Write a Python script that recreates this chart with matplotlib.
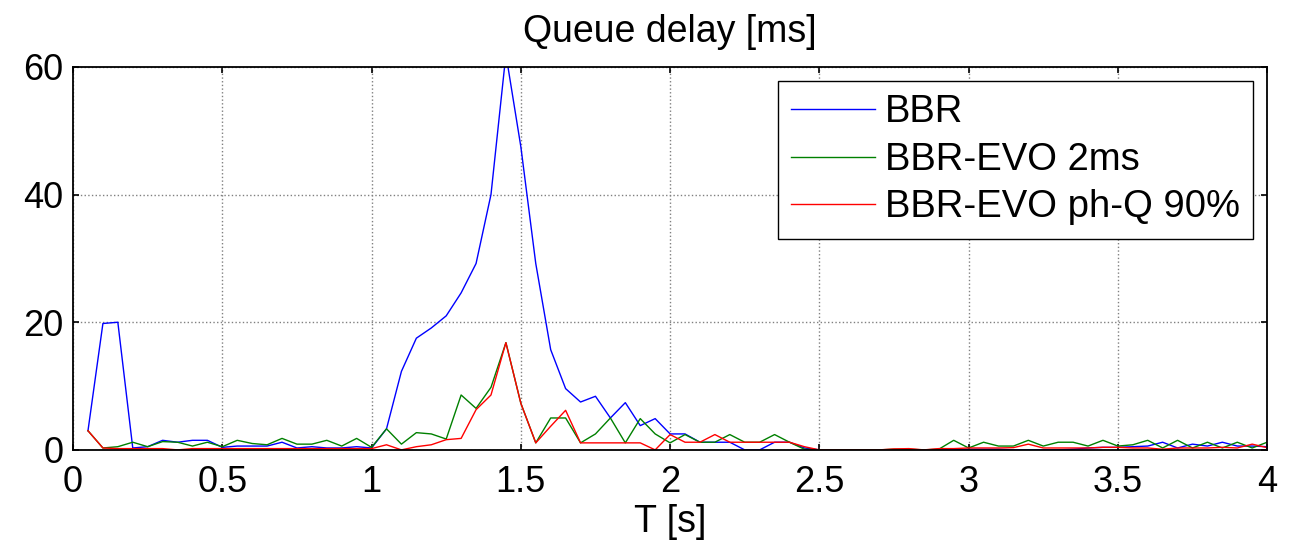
import matplotlib
matplotlib.use("Agg")
import matplotlib.pyplot as plt
import numpy as np

plt.rcParams['font.family'] = ['Liberation Sans', 'DejaVu Sans']

# sample times [s]
t = np.round(np.arange(1, 81) * 0.05, 2)

# queue delay [ms]
bbr = [3.0, 19.8, 20.0, 0.3, 0.5, 1.5, 1.2, 1.5, 1.5, 0.4,
       0.6, 0.6, 0.6, 1.2, 0.3, 0.5, 0.3, 0.3, 0.5, 0.3,
       3.3, 12.3, 17.5, 19.1, 21.0, 24.6, 29.2, 40.0, 62.0, 47.5,
       29.2, 15.7, 9.6, 7.5, 8.4, 5.0, 7.4, 3.8, 4.9, 2.5,
       2.5, 1.2, 1.2, 1.2, 0.0, 0.0, 1.2, 1.2, 0.3, 0.0,
       0.0, 0.0, 0.0, 0.0, 0.0, 0.0, 0.0, 0.0, 0.0, 0.1,
       0.1, 0.1, 0.0, 0.0, 0.0, 0.0, 0.1, 0.3, 0.4, 0.4,
       0.5, 0.6, 1.2, 0.3, 0.9, 0.6, 1.2, 0.6, 0.6, 0.5]
evo_2ms = [3.0, 0.3, 0.5, 1.2, 0.5, 1.3, 1.2, 0.6, 1.2, 0.5,
           1.5, 1.0, 0.8, 1.8, 0.9, 0.9, 1.5, 0.6, 1.8, 0.4,
           3.3, 0.9, 2.7, 2.5, 1.7, 8.6, 6.5, 9.8, 16.8, 7.3,
           1.1, 5.0, 5.0, 1.1, 2.5, 5.0, 1.1, 4.9, 2.5, 1.1,
           2.4, 1.2, 1.2, 2.4, 1.2, 1.2, 2.4, 1.2, 0.1, 0.0,
           0.0, 0.0, 0.0, 0.0, 0.1, 0.1, 0.0, 0.1, 1.5, 0.3,
           1.2, 0.6, 0.6, 1.5, 0.6, 1.2, 1.2, 0.6, 1.5, 0.6,
           0.8, 1.5, 0.3, 1.5, 0.3, 1.2, 0.3, 1.2, 0.3, 1.2]
evo_phq = [3.0, 0.3, 0.2, 0.2, 0.2, 0.2, 0.0, 0.2, 0.2, 0.2,
           0.2, 0.2, 0.2, 0.2, 0.2, 0.2, 0.2, 0.2, 0.2, 0.2,
           0.8, 0.0, 0.5, 0.8, 1.6, 1.8, 6.3, 8.6, 16.8, 7.3,
           1.1, 3.7, 6.2, 1.1, 1.1, 1.1, 1.1, 1.1, 0.0, 2.4,
           1.2, 1.2, 2.4, 1.2, 1.2, 1.2, 1.2, 1.2, 0.5, 0.0,
           0.0, 0.0, 0.0, 0.0, 0.15, 0.2, 0.0, 0.2, 0.2, 0.3,
           0.3, 0.3, 0.35, 0.9, 0.3, 0.3, 0.3, 0.3, 0.4, 0.4,
           0.3, 0.3, 0.1, 0.3, 0.3, 0.3, 0.4, 0.3, 0.9, 0.35]

labels = ["BBR", "BBR-EVO 2ms", "BBR-EVO ph-Q 90%"]
colors = ["#0000FF", "#008000", "#FF0000"]

fig = plt.figure(figsize=(12.93, 5.44), dpi=100)
ax = fig.add_axes([0.0565, 0.173, 0.9235, 0.704])

for y, lab, c in zip([bbr, evo_2ms, evo_phq], labels, colors):
    ax.plot(t, y, color=c, lw=1.0, label=lab)

ax.set_xlim(0, 4)
ax.set_ylim(0, 60)
ax.set_xticks(np.arange(0, 4.01, 0.5))
ax.set_xticklabels(["0", "0.5", "1", "1.5", "2", "2.5", "3", "3.5", "4"])
ax.set_yticks([0, 20, 40, 60])
ax.grid(True, color="#808080", linestyle=":", lw=1.0)
ax.tick_params(direction="in", length=4, width=1.2, top=True, right=True,
               labelsize=26)
ax.tick_params(axis="x", pad=11)
ax.tick_params(axis="y", pad=7)
for s in ax.spines.values():
    s.set_linewidth(1.3)

ax.set_title("Queue delay [ms]", fontsize=27, pad=18)
ax.set_xlabel("T [s]", fontsize=27, labelpad=3)

leg = ax.legend(loc="upper right", fontsize=27.5, frameon=True, fancybox=False,
                edgecolor="black", framealpha=1, handlelength=2.2,
                handletextpad=0.25, borderpad=0.35, labelspacing=0.3,
                borderaxespad=0.37)
leg.get_frame().set_linewidth(1.0)

fig.savefig("out.png", dpi=100)
